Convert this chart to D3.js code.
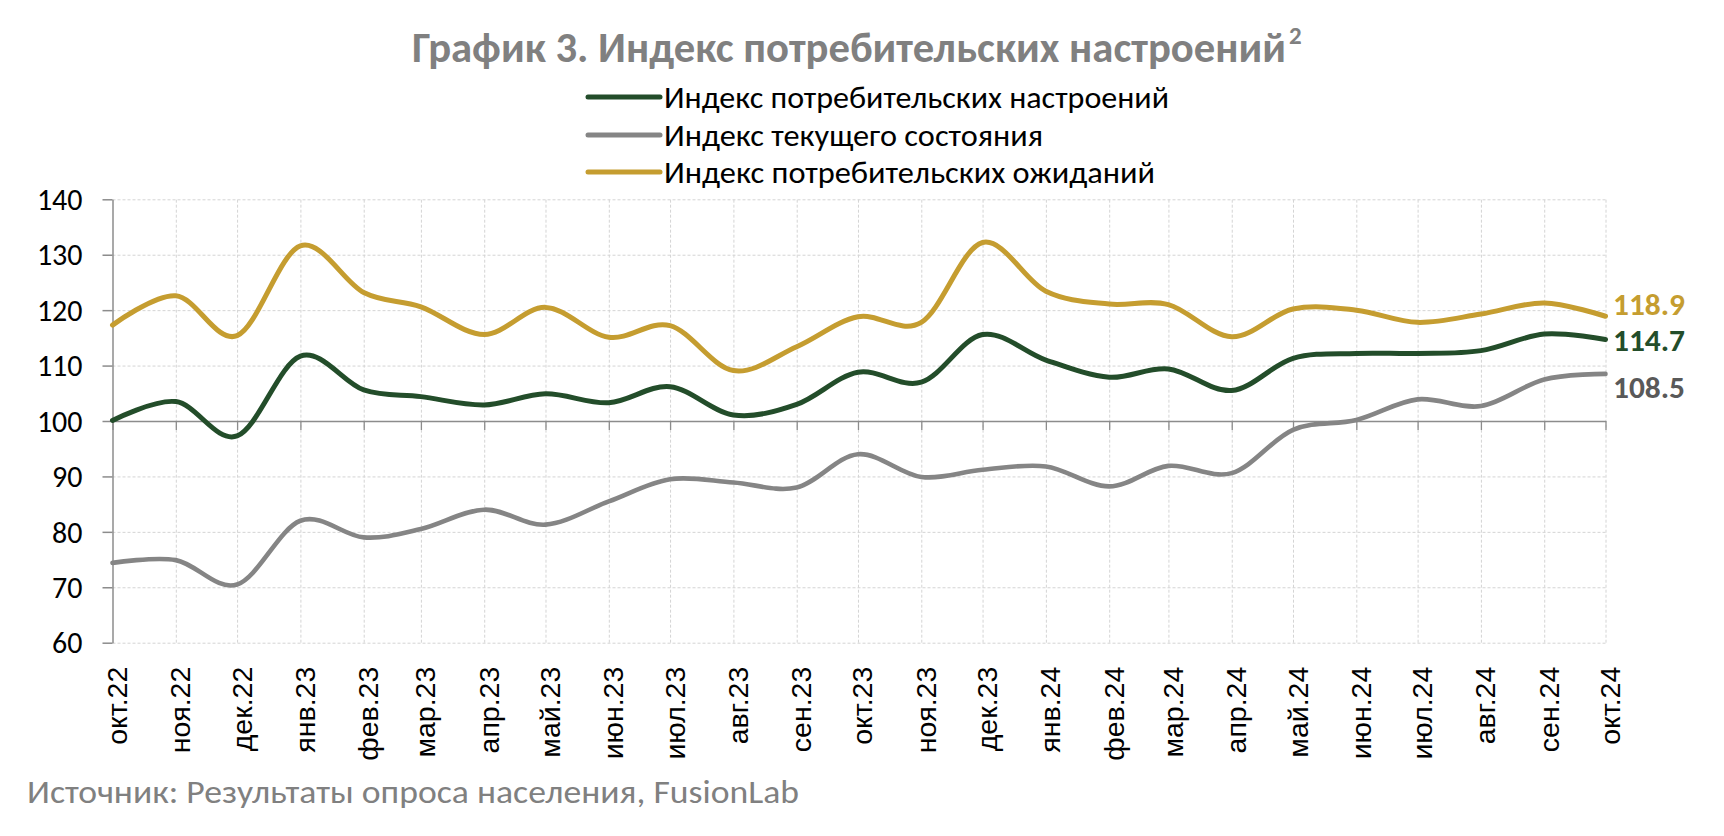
<!DOCTYPE html>
<html>
<head>
<meta charset="utf-8">
<script src="https://cdn.jsdelivr.net/npm/d3@7"></script>
<style>
  html, body { margin: 0; padding: 0; background: #ffffff; }
  svg { display: block; }
</style>
</head>
<body>
<svg id="chart" width="1724" height="836"></svg>
<script>
// ---------- DATA ----------
const months = ["2022-10-01","2022-11-01","2022-12-01","2023-01-01","2023-02-01","2023-03-01","2023-04-01","2023-05-01","2023-06-01","2023-07-01","2023-08-01","2023-09-01","2023-10-01","2023-11-01","2023-12-01","2024-01-01","2024-02-01","2024-03-01","2024-04-01","2024-05-01","2024-06-01","2024-07-01","2024-08-01","2024-09-01","2024-10-01"];
const monthLabels = ["окт.22","ноя.22","дек.22","янв.23","фев.23","мар.23","апр.23","май.23","июн.23","июл.23","авг.23","сен.23","окт.23","ноя.23","дек.23","янв.24","фев.24","мар.24","апр.24","май.24","июн.24","июл.24","авг.24","сен.24","окт.24"];
const sentiment    = [100.1,103.5, 97.3,111.7,105.6,104.4,102.9,104.9,103.3,106.2,101.1,103.0,108.8,107.0,115.6,111.0,107.9,109.4,105.5,111.3,112.2,112.2,112.7,115.7,114.7];
const current      = [ 74.4, 74.9, 70.5, 82.0, 79.0, 80.5, 84.0, 81.3, 85.5, 89.5, 88.9, 88.0, 94.0, 89.9, 91.2, 91.8, 88.2, 91.9, 90.6, 98.4,100.2,103.9,102.7,107.5,108.5];
const expectations = [117.3,122.6,115.4,131.6,123.2,120.6,115.6,120.5,115.1,117.2,109.1,113.4,118.8,117.8,132.2,123.4,121.1,121.0,115.2,120.2,120.0,117.8,119.3,121.3,118.9];
const yTicks = [60,70,80,90,100,110,120,130,140];
const seriesNames = ["Индекс потребительских настроений","Индекс текущего состояния","Индекс потребительских ожиданий"];
const lastLabels = ["114.7","108.5","118.9"];
const titleText = "График 3. Индекс потребительских настроений";
const titleSup = "2";
const sourceText = "Источник: Результаты опроса населения, FusionLab";

// ---------- STYLE ----------
const colors = ["#234d2a", "#858585", "#c59d30"];
const labelColors = ["#234d2a", "#595959", "#c59d30"];
const widths = [5, 4.6, 5];
const humanist = "Carlito, 'Open Sans', 'Noto Sans', sans-serif";
const arialLike = "'Liberation Sans', Arial, sans-serif";

const svg = d3.select("#chart");
const parse = d3.utcParse("%Y-%m-%d");
const dates = months.map(parse);

const x = d3.scaleUtc().domain([dates[0], dates[dates.length - 1]]).range([112.5, 1605.5]);
const y = d3.scaleLinear().domain([60, 140]).range([642.7, 199.3]);

// ---------- GRID ----------
const grid = svg.append("g");
grid.append("g")
  .attr("transform", `translate(${x.range()[0]},0)`)
  .call(d3.axisLeft(y).tickValues(yTicks).tickSize(-(x.range()[1] - x.range()[0])).tickFormat(""))
  .call(g => g.select(".domain").remove())
  .call(g => g.selectAll("line").attr("stroke", "#d4d4d4").attr("stroke-width", 1).attr("stroke-dasharray", "3,2"));
grid.append("g")
  .attr("transform", `translate(0,${y(60)})`)
  .call(d3.axisBottom(x).tickValues(dates.slice(1)).tickSize(-(y(60) - y(140))).tickFormat(""))
  .call(g => g.select(".domain").remove())
  .call(g => g.selectAll("line").attr("stroke", "#d4d4d4").attr("stroke-width", 1).attr("stroke-dasharray", "3,2"));

// ---------- AXES ----------
const axisColor = "#8c8c8c";
svg.append("g")
  .attr("transform", `translate(${x.range()[0]},0)`)
  .call(d3.axisLeft(y).tickValues(yTicks).tickSize(10).tickPadding(20).tickSizeOuter(0).tickFormat(d3.format("d")))
  .call(g => g.select(".domain").attr("stroke", axisColor).attr("stroke-width", 1.5))
  .call(g => g.selectAll(".tick line").attr("stroke", axisColor).attr("stroke-width", 1.5))
  .call(g => g.selectAll("text")
      .attr("fill", "#000")
      .attr("font-family", humanist)
      .attr("font-size", 30)
      .attr("dy", "0.34em"));

svg.append("g")
  .attr("transform", `translate(0,${y(100)})`)
  .call(d3.axisBottom(x).tickValues(dates).tickSize(9).tickSizeOuter(0).tickFormat(""))
  .call(g => g.select(".domain").attr("stroke", axisColor).attr("stroke-width", 1.5))
  .call(g => g.selectAll(".tick line").attr("stroke", axisColor).attr("stroke-width", 1.3));

svg.append("g")
  .attr("transform", `translate(0,${y(60)})`)
  .call(d3.axisBottom(x).tickValues(dates).tickSize(0).tickFormat((d, i) => monthLabels[i]))
  .call(g => g.select(".domain").remove())
  .call(g => g.selectAll("text")
      .attr("fill", "#000")
      .attr("font-family", arialLike)
      .attr("font-size", 28.5)
      .attr("text-anchor", "end")
      .attr("dy", null)
      .attr("y", 0)
      .attr("transform", "translate(14,24) rotate(-90)"));

// ---------- LINES ----------
const seriesData = [sentiment, current, expectations];
const lineGen = d3.line()
  .x((d, i) => x(dates[i]))
  .y(d => y(d))
  .curve(d3.curveCardinal.tension(0));

svg.append("g").selectAll("path")
  .data(seriesData)
  .join("path")
  .attr("d", d => lineGen(d))
  .attr("fill", "none")
  .attr("stroke", (d, i) => colors[i])
  .attr("stroke-width", (d, i) => widths[i])
  .attr("stroke-linecap", "round")
  .attr("stroke-linejoin", "round");

// ---------- END LABELS ----------
const endOffsets = [1, 14, -12];
svg.append("g").selectAll("text")
  .data(seriesData)
  .join("text")
  .attr("x", 1613)
  .attr("y", (d, i) => y(d[d.length - 1]) + endOffsets[i] + 10.5)
  .attr("fill", (d, i) => labelColors[i])
  .attr("font-family", humanist)
  .attr("font-weight", "bold")
  .attr("font-size", 30)
  .attr("textLength", 72)
  .attr("lengthAdjust", "spacingAndGlyphs")
  .text((d, i) => lastLabels[i]);

// ---------- TITLE ----------
svg.append("text")
  .attr("x", 412)
  .attr("y", 62)
  .attr("fill", "#808080")
  .attr("font-family", humanist)
  .attr("font-weight", "bold")
  .attr("font-size", 42)
  .attr("textLength", 874)
  .attr("lengthAdjust", "spacingAndGlyphs")
  .text(titleText);
svg.append("text")
  .attr("x", 1289)
  .attr("y", 44)
  .attr("fill", "#808080")
  .attr("font-family", humanist)
  .attr("font-weight", "bold")
  .attr("font-size", 25)
  .text(titleSup);

// ---------- LEGEND ----------
const legendOrder = [0, 1, 2];
const legendY = [97, 135, 172];
const legendLen = [505, 379, 491];
const legend = svg.append("g");
legendOrder.forEach((s, k) => {
  legend.append("line")
    .attr("x1", 588).attr("x2", 660)
    .attr("y1", legendY[k]).attr("y2", legendY[k])
    .attr("stroke", colors[s])
    .attr("stroke-width", 5)
    .attr("stroke-linecap", "round");
  legend.append("text")
    .attr("x", 664)
    .attr("y", legendY[k] + 10.5)
    .attr("fill", "#000")
    .attr("font-family", humanist)
    .attr("font-size", 31)
    .attr("textLength", legendLen[k])
    .attr("lengthAdjust", "spacingAndGlyphs")
    .text(seriesNames[s]);
});

// ---------- SOURCE ----------
svg.append("text")
  .attr("x", 27)
  .attr("y", 803)
  .attr("fill", "#808080")
  .attr("font-family", humanist)
  .attr("font-size", 33)
  .attr("textLength", 772)
  .attr("lengthAdjust", "spacingAndGlyphs")
  .text(sourceText);
</script>
</body>
</html>
